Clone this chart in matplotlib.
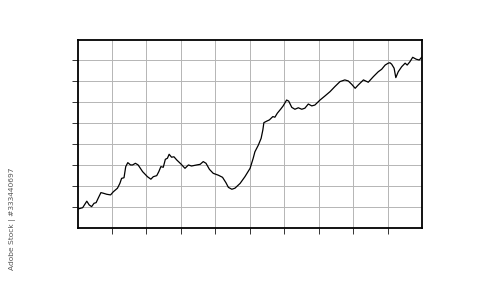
import matplotlib
matplotlib.use("Agg")
import matplotlib.pyplot as plt

# series (axis runs 0..10 by 0..9)
x_vals = [0.02, 0.15, 0.27, 0.34, 0.41, 0.48, 0.54, 0.60, 0.68, 0.75,
          0.85, 0.96, 1.04, 1.16, 1.23, 1.28, 1.35, 1.40, 1.46, 1.54,
          1.60, 1.68, 1.76, 1.89, 2.03, 2.13, 2.20, 2.30, 2.36, 2.42,
          2.49, 2.55, 2.61, 2.66, 2.73, 2.80, 2.88, 3.00, 3.12, 3.22,
          3.31, 3.46, 3.56, 3.65, 3.73, 3.83, 3.94, 4.09, 4.21, 4.31,
          4.38, 4.48, 4.57, 4.72, 4.86, 5.01, 5.10, 5.15, 5.25, 5.33,
          5.38, 5.41, 5.49, 5.57, 5.67, 5.73, 5.80, 5.90, 5.97, 6.07,
          6.13, 6.22, 6.31, 6.41, 6.51, 6.60, 6.70, 6.80, 6.89, 7.04,
          7.18, 7.33, 7.47, 7.62, 7.76, 7.86, 7.96, 8.06, 8.15, 8.30,
          8.44, 8.59, 8.73, 8.83, 8.93, 9.02, 9.07, 9.12, 9.19, 9.24,
          9.31, 9.41, 9.51, 9.57, 9.65, 9.73, 9.83, 9.92, 9.99]
y_vals = [0.91, 0.97, 1.28, 1.10, 1.02, 1.18, 1.21, 1.42, 1.69, 1.66,
          1.61, 1.58, 1.73, 1.90, 2.13, 2.37, 2.40, 2.93, 3.12, 3.01,
          3.01, 3.09, 3.01, 2.69, 2.45, 2.33, 2.45, 2.50, 2.69, 2.93,
          2.90, 3.28, 3.33, 3.52, 3.38, 3.40, 3.25, 3.06, 2.85, 3.01,
          2.96, 3.01, 3.04, 3.17, 3.09, 2.80, 2.61, 2.52, 2.42, 2.16,
          1.94, 1.85, 1.90, 2.13, 2.45, 2.85, 3.33, 3.64, 3.96, 4.28,
          4.68, 5.03, 5.10, 5.16, 5.32, 5.29, 5.48, 5.68, 5.83, 6.11,
          6.06, 5.76, 5.67, 5.74, 5.67, 5.72, 5.92, 5.83, 5.87, 6.11,
          6.30, 6.51, 6.75, 6.99, 7.07, 7.02, 6.86, 6.67, 6.83, 7.07,
          6.96, 7.23, 7.46, 7.58, 7.78, 7.87, 7.89, 7.82, 7.63, 7.18,
          7.46, 7.70, 7.87, 7.78, 7.94, 8.15, 8.06, 8.02, 8.15]

x_ticks = [1, 2, 3, 4, 5, 6, 7, 8, 9]
y_ticks = [1, 2, 3, 4, 5, 6, 7, 8]

fig = plt.figure(figsize=(5.0, 2.81), dpi=100)
ax = fig.add_axes([77.5 / 500, 1 - 228 / 281, 344.5 / 500, 188.5 / 281])

ax.plot(x_vals, y_vals, color="black", linewidth=0.9)

ax.set_xlim(0, 10)
ax.set_ylim(0, 9)
ax.set_xticks(x_ticks)
ax.set_yticks(y_ticks)
ax.set_xticklabels([])
ax.set_yticklabels([])
ax.tick_params(direction="out", length=4, width=0.7, color="#333333")
ax.grid(True, color="#b5b5b5", linewidth=0.7)
ax.set_axisbelow(True)
for s in ax.spines.values():
    s.set_linewidth(1.3)
    s.set_color("black")

# stock watermark id on the left edge
fig.text(12.7 / 500, 1 - 168 / 281, "Adobe Stock | #333440697", rotation=90,
         ha="center", va="top", fontsize=5.4, color="#555555")

fig.savefig("out.png", dpi=100)
